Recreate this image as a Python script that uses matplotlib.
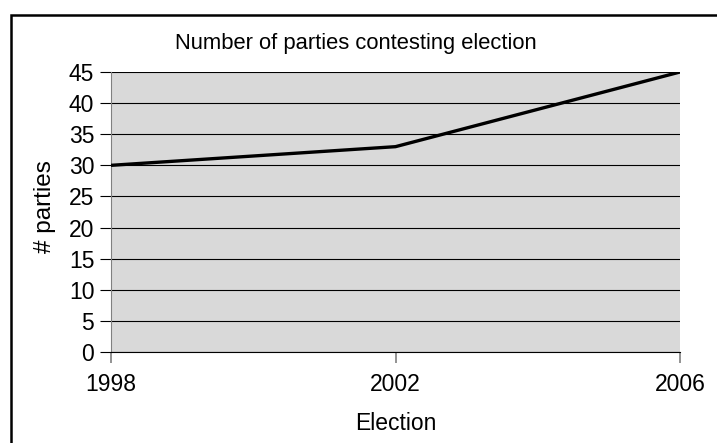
import matplotlib.pyplot as plt
from matplotlib.patches import Rectangle

years = [1998, 2002, 2006]
parties = [30, 33, 45]
yticks = [0, 5, 10, 15, 20, 25, 30, 35, 40, 45]

plt.rcParams['font.family'] = ['Liberation Sans', 'DejaVu Sans']

fig = plt.figure(figsize=(7.17, 4.43), dpi=100)
ax = fig.add_axes([111 / 717, 1 - 352 / 443, (680 - 111) / 717, (352 - 72) / 443])

ax.set_facecolor('#d9d9d9')
ax.plot(years, parties, color='black', linewidth=2.4, solid_capstyle='butt', zorder=3)

ax.set_xlim(years[0], years[-1])
ax.set_ylim(0, 45)
ax.set_xticks(years)
ax.set_yticks(yticks)
ax.yaxis.grid(True, color='black', linewidth=0.8)
ax.set_axisbelow(True)

for side in ['top', 'right']:
    ax.spines[side].set_visible(False)
ax.spines['left'].set_color('#808080')
ax.spines['bottom'].set_color('black')
ax.spines['bottom'].set_linewidth(0.8)

ax.tick_params(axis='y', length=8, width=0.8, color='black', labelsize=16.5, pad=4)
ax.tick_params(axis='x', length=8, width=1.2, color='#808080', labelsize=16.5, pad=7)

ax.set_xlabel('Election', fontsize=16.5, labelpad=12)
ax.set_ylabel('# parties', fontsize=17.5)
ax.yaxis.set_label_coords(-0.096, 0.52)
fig.text(356 / 717, 1 - 43 / 443, 'Number of parties contesting election',
         ha='center', va='center', fontsize=15.8)

# outer chart border
fig.patches.append(Rectangle((11 / 717, -0.1), 1.2, 1 - 15 / 443 + 0.1,
                             transform=fig.transFigure, fill=False,
                             edgecolor='black', linewidth=1.8))

fig.savefig('out.png', dpi=100)
